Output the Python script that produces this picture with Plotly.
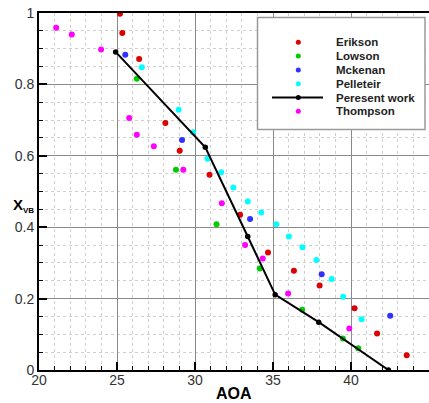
import plotly.graph_objects as go

# ---- data -------------------------------------------------------------
erikson_aoa = [25.19, 25.34, 26.42, 28.10, 29.02, 30.93, 32.89, 34.68, 36.34, 37.99, 40.23, 41.67, 43.57]
erikson_xvb = [0.998, 0.944, 0.871, 0.692, 0.614, 0.547, 0.435, 0.329, 0.278, 0.237, 0.173, 0.102, 0.041]

lowson_aoa = [26.27, 28.78, 31.38, 34.15, 36.87, 39.48, 40.46]
lowson_xvb = [0.816, 0.561, 0.408, 0.284, 0.169, 0.088, 0.061]

mckenan_aoa = [25.53, 29.17, 33.53, 38.12, 42.51]
mckenan_xvb = [0.883, 0.644, 0.423, 0.268, 0.152]

pelleteir_aoa = [26.59, 28.95, 29.87, 30.80, 31.68, 32.46, 33.38, 34.25, 35.21, 36.02, 36.89, 37.78, 38.76, 39.50, 40.68]
pelleteir_xvb = [0.848, 0.729, 0.666, 0.592, 0.554, 0.511, 0.472, 0.441, 0.408, 0.374, 0.344, 0.308, 0.255, 0.205, 0.142]

present_aoa = [24.91, 30.66, 33.38, 35.14, 37.93, 42.40]
present_xvb = [0.891, 0.624, 0.374, 0.211, 0.134, 0.0]

thompson_aoa = [21.10, 22.10, 23.98, 25.78, 26.27, 27.36, 29.25, 31.72, 33.21, 34.34, 35.97, 39.89]
thompson_xvb = [0.959, 0.940, 0.898, 0.706, 0.659, 0.627, 0.561, 0.467, 0.350, 0.312, 0.214, 0.116]

x_ticks = [20, 25, 30, 35, 40, 45]
y_ticks = [0, 0.2, 0.4, 0.6, 0.8, 1]
y_tick_labels = ["0", "0.2", "0.4", "0.6", "0.8", "1"]

series_names = ["Erikson", "Lowson", "Mckenan", "Pelleteir", "Peresent work", "Thompson"]
series_colors = ["#dd0000", "#00cc00", "#3030ff", "#00ffff", "#000000", "#ff00ff"]

# ---- figure geometry (pixels) ------------------------------------------
W, H = 429, 403
ML, MR, MT, MB = 39, 0, 13, 33
PW, PH = W - ML - MR, H - MT - MB


def px_x(px):
    return (px - ML) / PW


def px_y(py):
    return (H - MB - py) / PH


FONT = "Liberation Sans, Arial, Helvetica, sans-serif"

fig = go.Figure()

scatter_sets = [
    (erikson_aoa, erikson_xvb),
    (lowson_aoa, lowson_xvb),
    (mckenan_aoa, mckenan_xvb),
    (pelleteir_aoa, pelleteir_xvb),
    None,
    (thompson_aoa, thompson_xvb),
]

for name, color, data in zip(series_names, series_colors, scatter_sets):
    if data is None:
        continue
    fig.add_trace(go.Scatter(
        x=data[0], y=data[1], mode="markers", name=name,
        marker=dict(color=color, size=6, line=dict(width=0)),
        showlegend=False,
    ))

fig.add_trace(go.Scatter(
    x=present_aoa, y=present_xvb, mode="lines+markers", name=series_names[4],
    line=dict(color="black", width=2),
    marker=dict(color="black", size=5.5),
    showlegend=False,
))

axis_common = dict(
    showline=True, linecolor="black", linewidth=2,
    ticks="inside", ticklen=8, tickwidth=2, tickcolor="black",
    showgrid=True, gridcolor="#8a8a8a", gridwidth=1,
    zeroline=False,
    tickfont=dict(family=FONT, size=14, color="#333333"),
)

fig.update_xaxes(
    range=[20, 45], tickvals=x_ticks, mirror=True, ticklabelstandoff=-4,
    minor=dict(dtick=1, tick0=20, ticks="inside", ticklen=4, tickwidth=1,
               tickcolor="black", showgrid=True, gridcolor="#cfcfcf",
               griddash="dot", gridwidth=1),
    **axis_common,
)
fig.update_yaxes(
    range=[0, 1], tickvals=y_ticks, ticktext=y_tick_labels, mirror=False,
    minor=dict(dtick=0.05, tick0=0, ticks="inside", ticklen=4, tickwidth=1,
               tickcolor="black", showgrid=True, gridcolor="#cfcfcf",
               griddash="dot", gridwidth=1),
    **axis_common,
)

# ---- axis titles ------------------------------------------------------
annotations = [
    dict(x=0.5, y=px_y(393), xref="paper", yref="paper",
         text="<b>AOA</b>", showarrow=False, xanchor="center", yanchor="middle",
         font=dict(family=FONT, size=16, color="black")),
    dict(x=px_x(11), y=px_y(205), xref="paper", yref="paper",
         text="<b>X</b><sub><b><span style=\"font-size:8px\">VB</span></b></sub>",
         showarrow=False, xanchor="left", yanchor="middle",
         font=dict(family=FONT, size=15, color="black")),
]

# ---- legend box -------------------------------------------------------
shapes = [
    dict(type="rect", xref="paper", yref="paper",
         x0=px_x(257.5), x1=px_x(425), y0=px_y(129.5), y1=px_y(17.5),
         line=dict(color="#9a9a9a", width=1.5), fillcolor="white", layer="above"),
]

row0, row_step = 42.3, 13.8
mark_x, text_x = 298.3, 333.5
for i, (name, color) in enumerate(zip(series_names, series_colors)):
    ry = row0 + i * row_step
    if name == "Peresent work":
        shapes.append(dict(type="line", xref="paper", yref="paper",
                           x0=px_x(272), x1=px_x(323), y0=px_y(ry), y1=px_y(ry),
                           line=dict(color="black", width=2), layer="above"))
    shapes.append(dict(type="circle", xref="paper", yref="paper",
                       xsizemode="pixel", ysizemode="pixel",
                       xanchor=px_x(mark_x), yanchor=px_y(ry),
                       x0=-2.5, x1=2.5, y0=-2.5, y1=2.5,
                       fillcolor=color, line=dict(width=0), layer="above"))
    annotations.append(dict(x=px_x(text_x), y=px_y(ry), xref="paper", yref="paper",
                            text="<b>%s</b>" % name, showarrow=False,
                            xanchor="left", yanchor="middle",
                            font=dict(family=FONT, size=11.5, color="#222222")))

fig.update_layout(
    width=W, height=H,
    margin=dict(l=ML, r=MR, t=MT, b=MB, autoexpand=False),
    paper_bgcolor="white", plot_bgcolor="white",
    showlegend=False,
    annotations=annotations,
    shapes=shapes,
)

fig.write_html("out.html")
